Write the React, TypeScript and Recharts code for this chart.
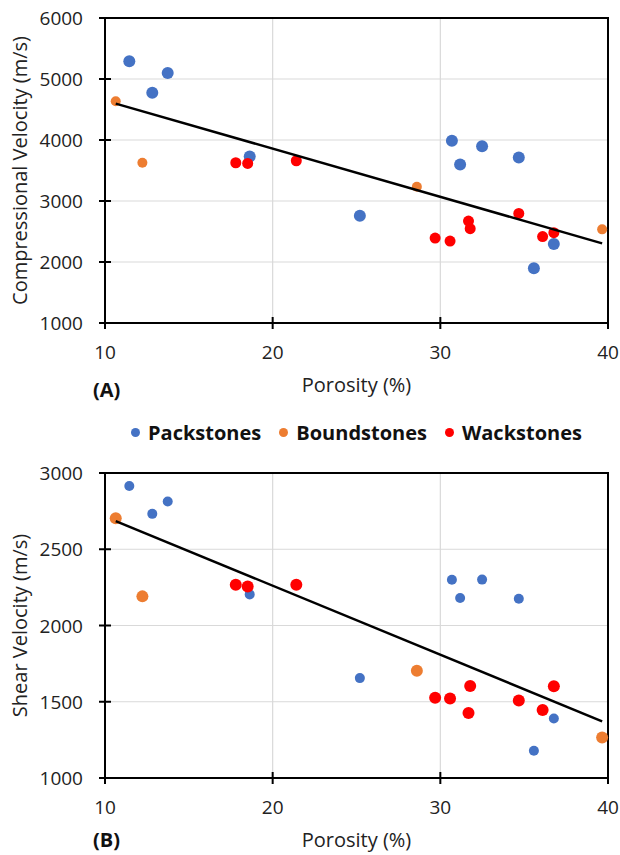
import React from 'react';
import {
  ScatterChart,
  Scatter,
  XAxis,
  YAxis,
  CartesianGrid,
  ReferenceArea,
  Label,
} from 'recharts';

// porosity (%) per sample, by facies
const packPorosity = [11.45, 12.82, 13.74, 18.63, 25.2, 30.69, 31.18, 32.49, 34.68, 35.58, 36.77];
const boundPorosity = [10.64, 12.23, 28.6, 39.65];
const wackPorosity = [17.8, 18.51, 21.41, 29.69, 30.58, 31.68, 31.78, 34.68, 36.1, 36.77];

// compressional velocity (m/s)
const packVp = [5290, 4773, 5100, 3730, 2759, 3987, 3599, 3899, 3714, 1897, 2295];
const boundVp = [4635, 3627, 3234, 2535];
const wackVp = [3627, 3615, 3660, 2393, 2344, 2671, 2547, 2797, 2416, 2481];

// shear velocity (m/s)
const packVs = [2915, 2732, 2813, 2204, 1655, 2300, 2180, 2301, 2175, 1179, 1390];
const boundVs = [2704, 2191, 1703, 1266];
const wackVs = [2267, 2256, 2267, 1527, 1521, 1427, 1603, 1508, 1446, 1601];

// linear trend lines (end points)
const trendPorosity = [10.64, 39.65];
const trendVp = [4597, 2306];
const trendVs = [2685, 1371];

const xTicks = [10, 20, 30, 40];
const vpTicks = [1000, 2000, 3000, 4000, 5000, 6000];
const vsTicks = [1000, 1500, 2000, 2500, 3000];

const FONT = '"Open Sans", "Liberation Sans", sans-serif';
const BLUE = '#4472C4';
const ORANGE = '#ED7D31';
const RED = '#FF0000';

const zip = (xs: number[], ys: number[]) => xs.map((x, i) => ({ x, y: ys[i] }));

const XTick = ({ x, y, payload }: any) => (
  <g>
    <line x1={x} x2={x} y1={y - 6} y2={y + 6} stroke="#000" strokeWidth={2} />
    <text x={x} y={y + 29} textAnchor="middle" dominantBaseline="central" fontFamily={FONT} fontSize={19} fill="#222">
      {payload.value}
    </text>
  </g>
);

const YTick = ({ x, y, payload }: any) => (
  <g>
    <line x1={x - 6} x2={x + 6} y1={y} y2={y} stroke="#000" strokeWidth={2} />
    <text x={x - 22} y={y} textAnchor="end" dominantBaseline="central" fontFamily={FONT} fontSize={19} fill="#222">
      {payload.value}
    </text>
  </g>
);

const dot = (r: number, color: string) => (props: any) =>
  <circle cx={props.cx} cy={props.cy} r={r} fill={color} />;

const noDot = () => <g />;

interface PanelProps {
  yLabel: string;
  yTicks: number[];
  pack: number[];
  bound: number[];
  wack: number[];
  trend: number[];
  height: number;
  top: number;
  radii: [number, number, number];
}

const Panel = ({ yLabel, yTicks, pack, bound, wack, trend, height, top, radii }: PanelProps) => {
  const yMin = yTicks[0];
  const yMax = yTicks[yTicks.length - 1];
  return (
    <ScatterChart width={620} height={height} margin={{ top, right: 12, bottom: 7, left: 0 }}>
      <CartesianGrid stroke="#d9d9d9" strokeWidth={1.2} />
      <XAxis
        type="number"
        dataKey="x"
        domain={[10, 40]}
        ticks={xTicks}
        axisLine={false}
        tickLine={false}
        tickSize={0}
        tickMargin={0}
        height={70}
        tick={<XTick />}
      >
        <Label
          value="Porosity (%)"
          position="insideBottom"
          offset={1}
          fontSize={20}
          fontFamily={FONT}
          fill="#222"
        />
      </XAxis>
      <YAxis
        type="number"
        dataKey="y"
        domain={[yMin, yMax]}
        ticks={yTicks}
        axisLine={false}
        tickLine={false}
        tickSize={0}
        tickMargin={0}
        width={105}
        tick={<YTick />}
      >
        <Label
          value={yLabel}
          angle={-90}
          position="insideLeft"
          offset={20}
          fontSize={20}
          fontFamily={FONT}
          fill="#222"
          style={{ textAnchor: 'middle' }}
        />
      </YAxis>
      <ReferenceArea x1={10} x2={40} y1={yMin} y2={yMax} fill="none" stroke="#000" strokeWidth={2} />
      <Scatter data={zip(packPorosity, pack)} shape={dot(radii[0], BLUE)} isAnimationActive={false} />
      <Scatter data={zip(boundPorosity, bound)} shape={dot(radii[1], ORANGE)} isAnimationActive={false} />
      <Scatter data={zip(wackPorosity, wack)} shape={dot(radii[2], RED)} isAnimationActive={false} />
      <Scatter
        data={zip(trendPorosity, trend)}
        shape={noDot}
        line={{ stroke: '#000', strokeWidth: 2.5 }}
        isAnimationActive={false}
      />
    </ScatterChart>
  );
};

const legendItems = [
  { name: 'Packstones', color: BLUE },
  { name: 'Boundstones', color: ORANGE },
  { name: 'Wackstones', color: RED },
];

const panelLetter: React.CSSProperties = {
  position: 'absolute',
  left: 93,
  fontFamily: FONT,
  fontWeight: 700,
  fontSize: 20,
  lineHeight: '28px',
  color: '#111',
};

export default function App() {
  return (
    <div style={{ position: 'absolute', left: 0, top: 0, width: 620, height: 855, background: '#fff', fontFamily: FONT }}>
      <div style={{ position: 'absolute', left: 0, top: 0 }}>
        <Panel
          yLabel="Compressional Velocity (m/s)"
          yTicks={vpTicks}
          pack={packVp}
          bound={boundVp}
          wack={wackVp}
          trend={trendVp}
          height={400}
          top={18}
          radii={[6, 5, 5.5]}
        />
      </div>
      <div style={{ ...panelLetter, top: 376 }}>(A)</div>
      <div
        style={{
          position: 'absolute',
          left: 105,
          width: 503,
          top: 418,
          height: 28,
          display: 'flex',
          justifyContent: 'center',
          alignItems: 'center',
          gap: 18,
        }}
      >
        {legendItems.map((it) => (
          <div key={it.name} style={{ display: 'flex', alignItems: 'center' }}>
            <span style={{ width: 9, height: 9, borderRadius: '50%', background: it.color, marginRight: 8 }} />
            <span style={{ fontWeight: 700, fontSize: 20, color: '#111' }}>{it.name}</span>
          </div>
        ))}
      </div>
      <div style={{ position: 'absolute', left: 0, top: 440 }}>
        <Panel
          yLabel="Shear Velocity (m/s)"
          yTicks={vsTicks}
          pack={packVs}
          bound={boundVs}
          wack={wackVs}
          trend={trendVs}
          height={415}
          top={33}
          radii={[5, 6, 6]}
        />
      </div>
      <div style={{ ...panelLetter, top: 826 }}>(B)</div>
    </div>
  );
}
